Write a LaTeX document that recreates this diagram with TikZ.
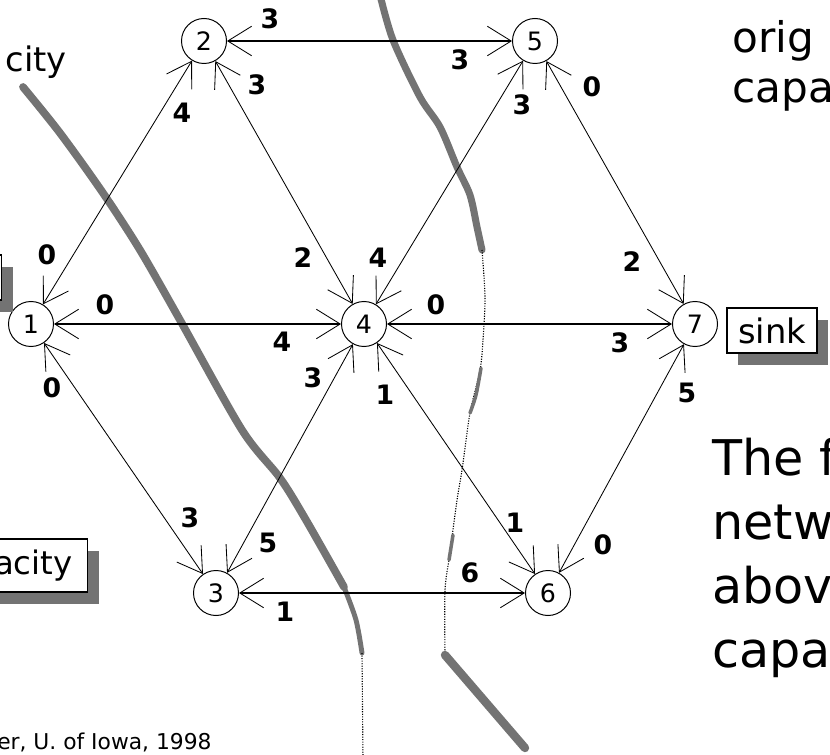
\documentclass[tikz,border=0pt]{standalone}
\usepackage{fontspec}
\setmainfont{DejaVu Sans}
\usetikzlibrary{arrows.meta,shadows}

\begin{document}
\begin{tikzpicture}[x=0.025cm, y=-0.025cm,
  vertex/.style={circle, draw, fill=white, line width=0.7pt, inner sep=0pt, minimum size=1.125cm, font=\fontsize{18}{18}\selectfont},
  resarc/.style={line width=0.6pt, {Straight Barb[length=17pt, width=21pt, line width=0.6pt]}-{Straight Barb[length=17pt, width=21pt, line width=0.6pt]}},
  flatarc/.style={resarc, line width=1.4pt},
  flowlbl/.style={inner sep=0pt, font=\bfseries\fontsize{19}{19}\selectfont},
  tag/.style={draw, fill=white, line width=0.8pt, inner sep=0pt, minimum height=1.125cm,
    drop shadow={shadow xshift=0.28cm, shadow yshift=-0.29cm, fill=black!55, opacity=1}},
  cutband/.style={black!55, line width=5.5pt, line cap=round, line join=round},
  cutgap/.style={densely dotted, line width=0.8pt}]
\useasboundingbox (0,0) rectangle (830,755);
\clip (0,0) rectangle (830,755);

% cuts
\draw[cutband] plot[smooth] coordinates {(23,87) (60,133) (103,193) (140,250) (180,320) (242,430) (280,478) (306,520) (344,587)};
\draw[cutband, line width=3.5pt] plot[smooth] coordinates {(344,587) (356,620) (362,653)};
\draw[cutgap] (362,653) -- (363,760);
\draw[cutband, line width=5pt] plot[smooth] coordinates {(380,-5) (393,40) (420,97) (440,127) (457,167) (470,195) (477,227) (482,250)};
\draw[cutgap] plot[smooth] coordinates {(482,250) (485,297) (483,340) (480,370) (470,413) (462,470) (457,500) (450,553) (445,590) (445,655)};
\draw[cutband, line width=2.5pt] plot[smooth] coordinates {(481,368) (476,395) (470,413)};
\draw[cutband, line width=2.5pt] (453,535) -- (449,560);
\draw[cutband, line width=6pt] (445,655) -- (525,748);

% vertices
\foreach \n/\x/\y in {1/31/324, 2/204/41, 3/216/593, 4/364/324, 5/535/41, 6/548/593, 7/695/324}
  \node[vertex] (v\n) at (\x,\y) {\n};

% residual arcs
\foreach \a/\b in {1/2, 2/4, 4/5, 5/7, 1/3, 3/4, 4/6, 6/7}
  \draw[resarc] (v\a) -- (v\b);
\foreach \a/\b in {2/5, 1/4, 4/7, 3/6}
  \draw[flatarc] (v\a) -- (v\b);

% capacities: x, y, value
\foreach \x/\y/\c [count=\i] in {
  270/19/3, 460/60/3, 182/113/4, 257/85/3, 522/105/3, 592/87/0,
  47/255/0, 105/305/0, 52/388/0, 303/258/2, 378/258/4, 436/305/0,
  282/342/4, 313/378/3, 385/395/1, 632/262/2, 620/343/3, 687/393/5,
  190/518/3, 268/543/5, 515/523/1, 470/573/6, 285/612/1, 603/545/0
} \node[flowlbl] (c\i) at (\x,\y) {\c};

% boxes
\node[tag, minimum width=2cm, anchor=east] (srcbox) at (2,277.5) {};
\node[tag, minimum width=2.25cm, font=\fontsize{24}{24}\selectfont] (sink) at (772,330.5) {sink};
\node[tag, anchor=east, inner xsep=0.375cm, minimum height=1.325cm, font=\fontsize{23}{23}\selectfont] (capbox) at (88,565.5) {acity};

% text
\node[anchor=base east, inner sep=0pt, font=\fontsize{24}{24}\selectfont] (lcap) at (67,72) {city};
\foreach \t [count=\i] in {orig, capa}
  \node[anchor=base west, inner sep=0pt, font=\fontsize{30}{30}\selectfont] (top\i) at (732,3+50*\i) {\t};
\foreach \t [count=\i] in {The f, netw, above, capac}
  \node[anchor=base west, inner sep=0pt, font=\fontsize{35}{35}\selectfont] (note\i) at (712,411+64*\i) {\t};
\node[anchor=base west, inner sep=0pt, font=\fontsize{15.5}{15.5}\selectfont] (credit) at (-3,749) {er, U. of Iowa, 1998};
\end{tikzpicture}
\end{document}
